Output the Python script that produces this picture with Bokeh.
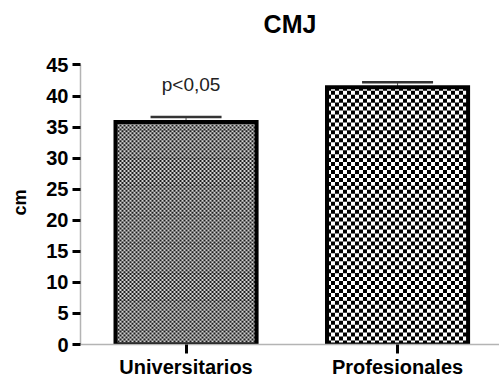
from bokeh.plotting import figure
from bokeh.models import (ColumnDataSource, Range1d, FixedTicker, Whisker,
                          TeeHead, Label)
from bokeh.embed import file_html
from bokeh.resources import INLINE

# CMJ jump height (cm): group means with upper error bars
title = "CMJ"
y_label = "cm"
groups = ["Universitarios", "Profesionales"]
means = [35.8, 41.4]
errors = [0.8, 0.8]
y_ticks = [0, 5, 10, 15, 20, 25, 30, 35, 40, 45]

positions = list(range(1, len(groups) + 1))
upper = [m + e for m, e in zip(means, errors)]

FONT = "Liberation Sans"

# layout (pixels): the frame reaches the top of the canvas so the title can
# sit inside it; the y axis itself is bounded to the 0-45 scale
WIDTH, HEIGHT = 499, 380
BORDER_L, BORDER_R, BORDER_B = 80, 0, 33
TOP_PAD = 65
X_START, X_END = 0.501, 2.482
Y_START, Y_END = 0, 45
BAR_W = 0.667

px_per_y = (HEIGHT - BORDER_B - TOP_PAD) / (Y_END - Y_START)
y_view_end = Y_END + TOP_PAD / px_per_y

# checkerboard fill per bar: (cell size in px, dark tone, light tone)
textures = [(2, "#1e1e1e", "#d2d2d2"), (4, "#000000", "#ffffff")]

p = figure(width=WIDTH, height=HEIGHT,
           x_range=Range1d(X_START, X_END), y_range=Range1d(Y_START, y_view_end),
           output_backend="svg", toolbar_location=None,
           min_border_left=BORDER_L, min_border_right=BORDER_R,
           min_border_top=0, min_border_bottom=BORDER_B)

src = ColumnDataSource(dict(x=positions, mean=means, upper=upper,
                            light=[t[2] for t in textures]))

# bar backgrounds (light tone of each checkerboard)
p.vbar(x="x", top="mean", bottom=0, width=BAR_W, source=src,
       fill_color="light", line_color=None)

# checkerboard: one dashed stroke per row, alternate rows shifted by a cell
for xc, top, (cell, dark, _) in zip(positions, means, textures):
    dy = cell / px_per_y
    n_rows = int(top / dy + 0.5)
    ys = [(j + 0.5) * dy for j in range(n_rows)]
    left, right = xc - BAR_W / 2, xc + BAR_W / 2
    for parity in (0, 1):
        rows = ys[parity::2]
        p.segment(x0=[left] * len(rows), x1=[right] * len(rows),
                  y0=rows, y1=rows, line_color=dark, line_width=cell,
                  line_cap="butt", line_dash=f"{cell} {cell}",
                  line_dash_offset=parity * cell)

# bar outlines on top of the texture
p.vbar(x="x", top="mean", bottom=0, width=BAR_W, source=src,
       fill_color=None, line_color="black", line_width=4, line_join="miter")

err = Whisker(base="x", lower="mean", upper="upper", source=src,
              line_color="#555555", line_width=1,
              upper_head=TeeHead(size=71, line_width=2.5, line_color="#333333"),
              lower_head=None)
p.add_layout(err)

p.add_layout(Label(x=positions[0], y=41.8, x_offset=5, text="p<0,05",
                   text_align="center", text_baseline="alphabetic",
                   text_font=FONT, text_font_size="19px",
                   text_color="#222222"))

# chart title, centred over the frame above the top of the scale
p.add_layout(Label(x=(X_START + X_END) / 2, y=Y_END, y_offset=41,
                   text=title, text_align="center",
                   text_baseline="alphabetic", text_font=FONT,
                   text_font_size="25px", text_font_style="bold",
                   text_color="black"))

p.xgrid.visible = False
p.ygrid.visible = False
p.outline_line_color = None

for ax in (p.xaxis[0], p.yaxis[0]):
    ax.axis_line_color = "#b4b4b4"
    ax.axis_line_width = 1.5
    ax.major_tick_line_color = "black"
    ax.major_tick_line_width = 3
    ax.major_tick_in = 0
    ax.minor_tick_line_color = None
    ax.major_label_text_font = FONT
    ax.major_label_text_font_size = "20px"
    ax.major_label_text_font_style = "bold"
    ax.major_label_text_color = "black"

xa = p.xaxis[0]
xa.ticker = FixedTicker(ticks=positions)
xa.major_label_overrides = {pos: name for pos, name in zip(positions, groups)}
xa.major_tick_out = 9
xa.major_label_standoff = 2

ya = p.yaxis[0]
ya.ticker = FixedTicker(ticks=y_ticks)
ya.bounds = (Y_START, Y_END)
ya.major_tick_out = 8
ya.major_label_standoff = 4
# the label is centred on the full-height frame; trailing no-break spaces
# move the word down beside the middle of the 0-45 scale
ya.axis_label = y_label + "\u00a0" * 12
ya.axis_label_text_font = FONT
ya.axis_label_text_font_size = "18px"
ya.axis_label_text_font_style = "bold"
ya.axis_label_text_color = "black"
ya.axis_label_standoff = 13

open("out.html", "w").write(file_html(p, INLINE))
